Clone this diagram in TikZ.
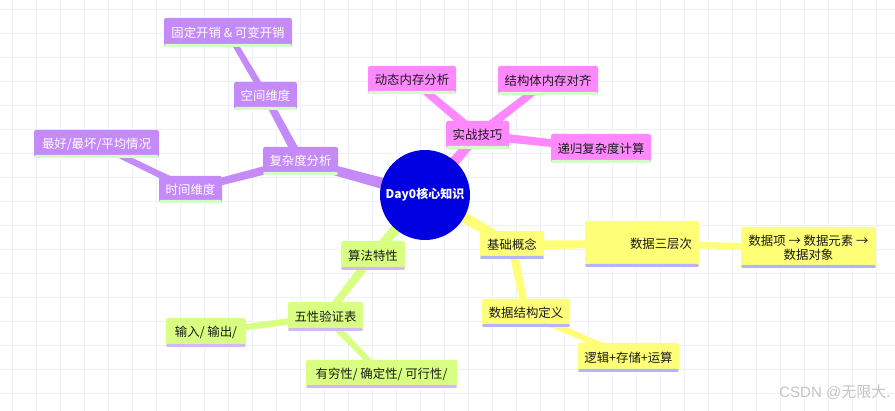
\documentclass[tikz,border=0pt]{standalone}
\usepackage{fontspec}
\setmainfont{Noto Sans CJK SC}
\newfontfamily\wmfont{Liberation Sans}
\usetikzlibrary{calc}
\definecolor{cpurple}{HTML}{C58AF9}
\definecolor{cpink}{HTML}{FF88FF}
\definecolor{cyellow}{HTML}{FFFF77}
\definecolor{cgreen}{HTML}{D9FF82}
\definecolor{croot}{HTML}{0000E0}
\definecolor{stripgreen}{HTML}{D2FFC6}
\definecolor{stripblue}{HTML}{B4B4FF}
\definecolor{striplav}{HTML}{D4B8FF}
\definecolor{gridcol}{HTML}{EEF2F8}
\definecolor{wmark}{HTML}{C4C4C4}
\pgfdeclarelayer{gridlayer}
\pgfdeclarelayer{edgelayer}
\pgfsetlayers{gridlayer,edgelayer,main}
\newcommand\branch[5]{\fill[#5] ($(#1)!#3!90:(#2)$) -- ($(#2)!#4!-90:(#1)$) -- ($(#2)!#4!90:(#1)$) -- ($(#1)!#3!-90:(#2)$) -- cycle;}
\tikzset{
  mbox/.style={rectangle, rounded corners=2pt, inner sep=0pt, align=center,
    path picture={\fill[#1] ([yshift=-1pt]path picture bounding box.south west) rectangle ([yshift=3pt]path picture bounding box.south east);}},
  pbox/.style={mbox=stripgreen, fill=cpurple, text=white},
  kbox/.style={mbox=stripgreen, fill=cpink, text=black!90},
  ybox/.style={mbox=stripblue, fill=cyellow, text=black!90},
  gbox/.style={mbox=striplav, fill=cgreen, text=black!90},
}
\begin{document}
\begin{tikzpicture}[x=1pt,y=-1pt,font=\fontsize{12.4}{14}\selectfont]
\useasboundingbox (0,0) rectangle (895,411);
\begin{pgfonlayer}{gridlayer}
\fill[white] (0,0) rectangle (895,411);
\foreach \i in {0,...,37} {\draw[gridcol, line width=1pt] (12+24*\i,0) -- (12+24*\i,411);}
\foreach \j in {0,...,17} {\draw[gridcol, line width=1pt] (0,9.5+24*\j) -- (895,9.5+24*\j);}
\end{pgfonlayer}

\node[circle, fill=croot, minimum size=90pt, inner sep=0pt, text=white, font=\fontsize{12}{14}\selectfont\bfseries] (root) at (425,195) {Day0核心知识};

% purple branch
\node[pbox, minimum width=75pt, minimum height=28pt] (fz) at (300.5,161) {复杂度分析};
\node[pbox, minimum width=63pt, minimum height=28pt] (kj) at (265.5,96) {空间维度};
\node[pbox, minimum width=128pt, minimum height=29pt] (gd) at (228,32.5) {固定开销 \& 可变开销};
\node[pbox, minimum width=63pt, minimum height=27pt] (sj) at (190.5,189.5) {时间维度};
\node[pbox, minimum width=125pt, minimum height=28pt] (zh) at (96.5,144) {最好/最坏/平均情况};

% pink branch
\node[kbox, minimum width=63pt, minimum height=28pt] (sz) at (477.5,135) {实战技巧};
\node[kbox, minimum width=88pt, minimum height=28pt] (dt) at (412,80) {动态内存分析};
\node[kbox, minimum width=100pt, minimum height=29pt] (jg) at (548,80.5) {结构体内存对齐};
\node[kbox, minimum width=100pt, minimum height=29pt] (dg) at (601,148.5) {递归复杂度计算};

% yellow branch
\node[ybox, minimum width=64pt, minimum height=28pt] (jc) at (512,245) {基础概念};
\node[ybox, minimum width=114pt, minimum height=46pt, text width=100pt, align=right] (sc) at (642,244) {数据三层次};
\node[ybox, minimum width=135pt, minimum height=41pt] (sx) at (808.5,247.5) {数据项 → 数据元素 →\\数据对象};
\node[ybox, minimum width=88pt, minimum height=28pt] (dy) at (526,313) {数据结构定义};
\node[ybox, minimum width=101pt, minimum height=29pt] (lj) at (628.5,357.5) {逻辑+存储+运算};

% green branch
\node[gbox, minimum width=64pt, minimum height=29pt] (sf) at (373,255.5) {算法特性};
\node[gbox, minimum width=75pt, minimum height=29pt] (wx) at (325.5,316.5) {五性验证表};
\node[gbox, minimum width=80pt, minimum height=29pt] (sr) at (206,332.5) {输入/ 输出/};
\node[gbox, minimum width=151pt, minimum height=28pt] (yq) at (381.5,374) {有穷性/ 确定性/ 可行性/};

\node[text=wmark, font=\fontsize{15}{17}\selectfont, anchor=east] (wm) at (894,392) {{\wmfont CSDN @}无限大.};

\begin{pgfonlayer}{edgelayer}
\branch{root}{fz}{6pt}{4.5pt}{cpurple}
\branch{fz}{kj}{4.5pt}{3.5pt}{cpurple}
\branch{kj}{gd}{3.5pt}{2.8pt}{cpurple}
\branch{fz}{sj}{4.5pt}{3.5pt}{cpurple}
\branch{sj}{zh}{3.5pt}{2.8pt}{cpurple}
\branch{root}{sz}{6pt}{4.5pt}{cpink}
\branch{sz}{dt}{4.5pt}{3.5pt}{cpink}
\branch{sz}{jg}{4.5pt}{3.5pt}{cpink}
\branch{sz}{dg}{4.5pt}{3.5pt}{cpink}
\branch{root}{jc}{6pt}{4.5pt}{cyellow}
\branch{jc}{sc}{4.5pt}{3.5pt}{cyellow}
\branch{sc}{sx}{3.5pt}{2.8pt}{cyellow}
\branch{jc}{dy}{4.5pt}{3.5pt}{cyellow}
\branch{dy}{lj}{3.5pt}{2.8pt}{cyellow}
\branch{root}{sf}{6pt}{4.5pt}{cgreen}
\branch{sf}{wx}{4.5pt}{3.5pt}{cgreen}
\branch{wx}{sr}{3.5pt}{2.8pt}{cgreen}
\branch{wx}{yq}{3.5pt}{2.8pt}{cgreen}
\end{pgfonlayer}
\end{tikzpicture}
\end{document}
